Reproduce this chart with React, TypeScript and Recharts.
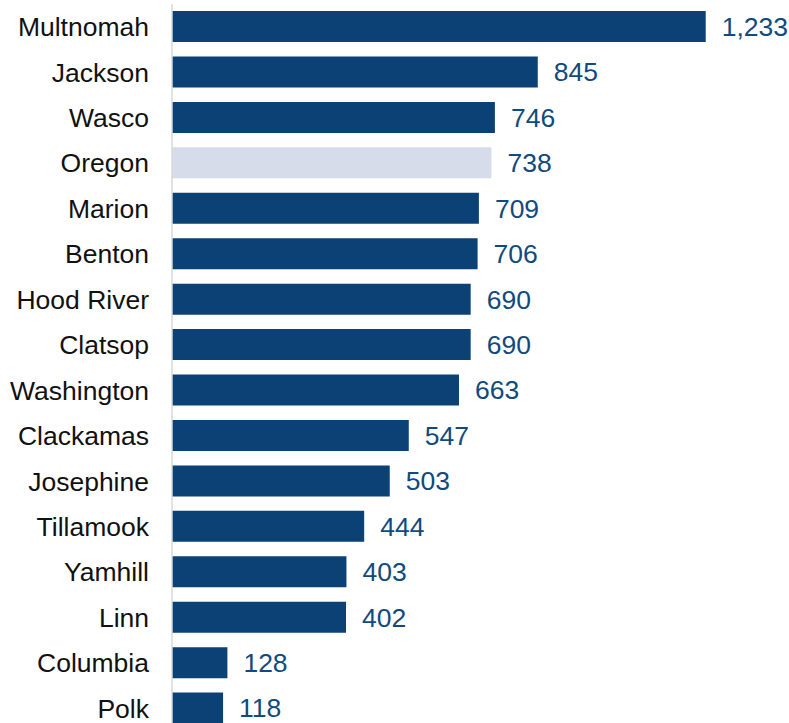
import React from 'react';
import { BarChart, Bar, XAxis, YAxis, Cell, LabelList } from 'recharts';

const counties = [
  'Multnomah',
  'Jackson',
  'Wasco',
  'Oregon',
  'Marion',
  'Benton',
  'Hood River',
  'Clatsop',
  'Washington',
  'Clackamas',
  'Josephine',
  'Tillamook',
  'Yamhill',
  'Linn',
  'Columbia',
  'Polk',
];

const rates = [1233, 845, 746, 738, 709, 706, 690, 690, 663, 547, 503, 444, 403, 402, 128, 118];

const highlight = 'Oregon';

const data = counties.map((name, i) => ({ name, value: rates[i] }));

const FONT = '"Liberation Sans", Arial, sans-serif';

export default function App() {
  return (
    <div style={{ width: 789, height: 723, overflow: 'hidden' }}>
      <style>{'body{margin:0;overflow:hidden}'}</style>
      <BarChart
        width={789}
        height={731}
        data={data}
        layout="vertical"
        margin={{ top: 4, right: 11, bottom: 0, left: 0 }}
        style={{ fontFamily: FONT }}
      >
        <XAxis type="number" hide domain={[0, 1400]} />
        <YAxis
          type="category"
          dataKey="name"
          width={172}
          interval={0}
          tickLine={false}
          tickSize={0}
          tickMargin={23}
          axisLine={{ stroke: '#d9d9d9', strokeWidth: 1.5 }}
          tick={{ fill: '#111111', fontSize: 26.5, fontFamily: FONT }}
        />
        <Bar dataKey="value" barSize={31} isAnimationActive={false}>
          {data.map((d) => (
            <Cell key={d.name} fill={d.name === highlight ? '#d6dce9' : '#0b4174'} />
          ))}
          <LabelList
            dataKey="value"
            position="right"
            offset={16}
            formatter={(v: any) => Number(v).toLocaleString('en-US')}
            style={{ fill: '#104a7e', fontSize: 26.5, fontFamily: FONT }}
          />
        </Bar>
      </BarChart>
    </div>
  );
}
